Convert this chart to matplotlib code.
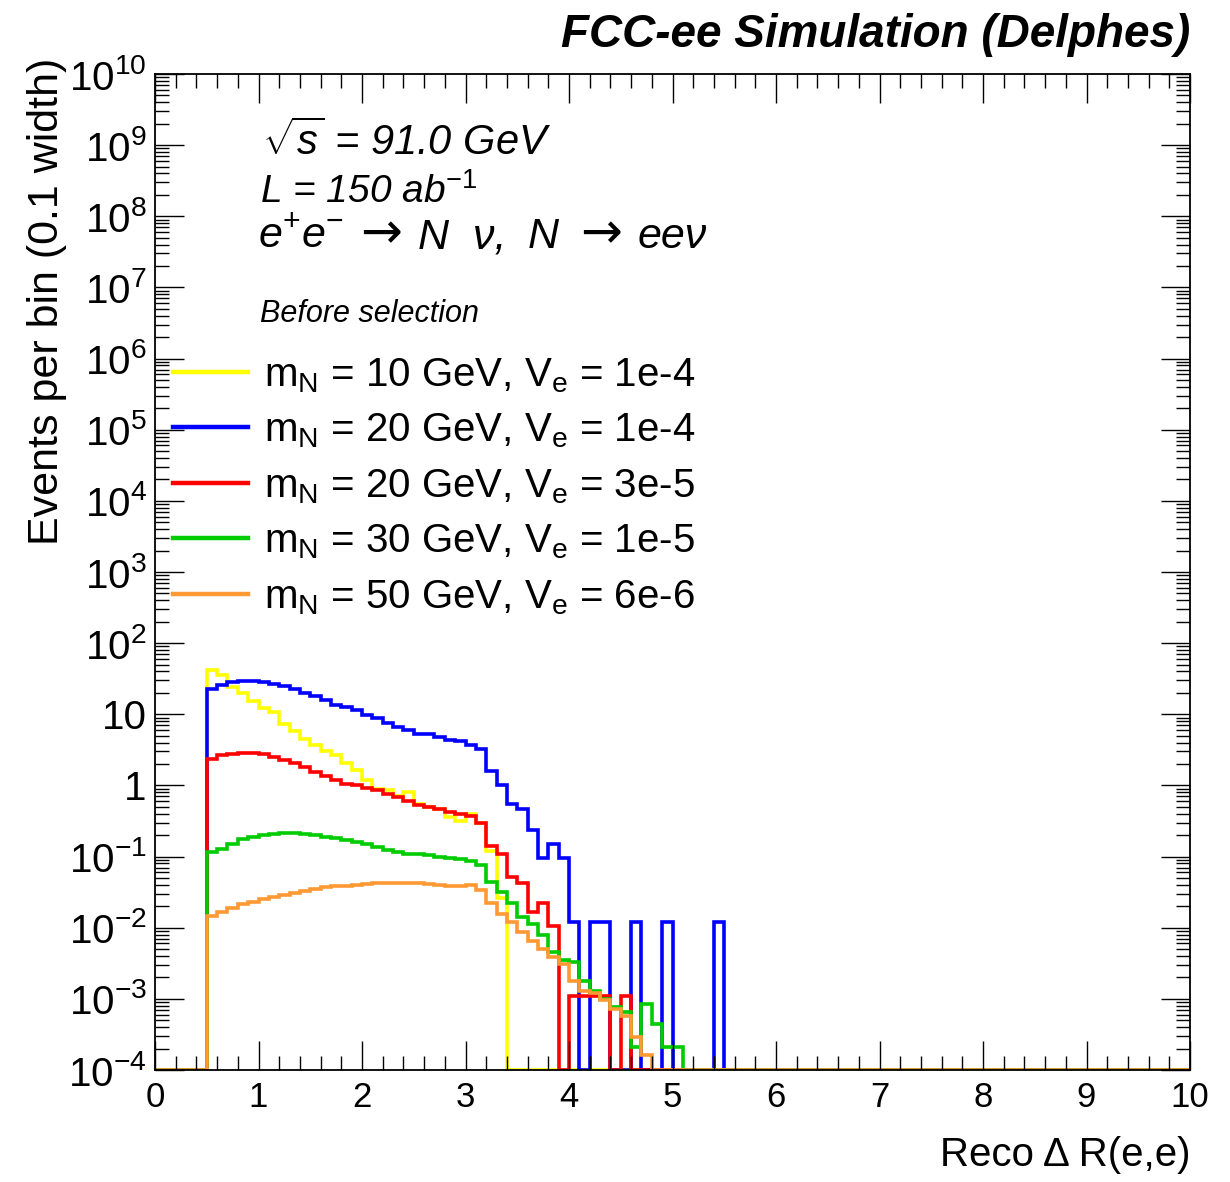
import numpy as np
import matplotlib
matplotlib.use("Agg")
import matplotlib.pyplot as plt
from matplotlib.lines import Line2D
from matplotlib.ticker import FixedLocator, LogLocator, FuncFormatter, NullFormatter

plt.rcParams['font.family'] = ['Liberation Sans', 'DejaVu Sans']
plt.rcParams['mathtext.fontset'] = 'custom'
plt.rcParams['mathtext.rm'] = 'Liberation Sans'
plt.rcParams['mathtext.it'] = 'Liberation Sans:italic'
plt.rcParams['mathtext.bf'] = 'Liberation Sans:bold'

# 100 bins of 0.1 in Delta R, the samples start at 0.5
bin_edges = np.linspace(0, 10, 101)
first_bin = 5

m10_ve1e4 = [42, 36, 24, 20, 15.5, 12.3, 10.7, 7.4, 5.8, 4.5,
             3.7, 3.0, 2.7, 2.1, 1.65, 1.2, 0.88, 0.85, 0.72, 0.80,
             0.55, 0.50, 0.47, 0.36, 0.32, 0.40, 0.30, 0.12, 0.026]
m20_ve1e4 = [23, 26, 28.5, 29.8, 29.8, 28.5, 27, 24.8, 23, 20,
             18, 15.7, 13.4, 12.6, 11.4, 9.7, 9.0, 7.6, 6.6, 6.0,
             5.3, 5.3, 4.8, 4.4, 4.2, 3.7, 3.3, 1.6, 1.0, 0.55,
             0.47, 0.24, 0.095, 0.15, 0.095, 0.012, 0, 0.012, 0.012, 0,
             0, 0.012, 0, 0, 0.012, 0, 0, 0, 0, 0.012]
m20_ve3e5 = [2.37, 2.64, 2.79, 2.85, 2.85, 2.73, 2.5, 2.25, 2.08, 1.81,
             1.54, 1.35, 1.18, 1.05, 1.0, 0.93, 0.86, 0.77, 0.69, 0.60,
             0.53, 0.50, 0.46, 0.43, 0.40, 0.37, 0.30, 0.14, 0.11, 0.051,
             0.042, 0.0166, 0.022, 0.0107, 0, 0.0011, 0.0011, 0.0011, 0.0011, 0,
             0.0011]
m30_ve1e5 = [0.115, 0.129, 0.151, 0.175, 0.187, 0.198, 0.208, 0.213, 0.213, 0.205,
             0.198, 0.19, 0.18, 0.17, 0.16, 0.15, 0.137, 0.125, 0.116, 0.11,
             0.107, 0.104, 0.10, 0.095, 0.092, 0.088, 0.077, 0.044, 0.032, 0.022,
             0.014, 0.0113, 0.0078, 0.0045, 0.0035, 0.0033, 0.0018, 0.0013, 0.001, 0.00076,
             0.00065, 0.00021, 0.00085, 0.00045, 0.00021, 0.00021]
m50_ve6e6 = [0.0148, 0.0165, 0.019, 0.0215, 0.023, 0.025, 0.027, 0.029, 0.031, 0.033,
             0.035, 0.037, 0.038, 0.039, 0.040, 0.041, 0.042, 0.043, 0.043, 0.042,
             0.042, 0.041, 0.040, 0.039, 0.038, 0.040, 0.034, 0.022, 0.0155, 0.012,
             0.0087, 0.0066, 0.005, 0.0039, 0.0031, 0.0018, 0.0013, 0.0012, 0.00095, 0.00072,
             0.00058, 0.00029, 0.00016]

series = [m10_ve1e4, m20_ve1e4, m20_ve3e5, m30_ve1e5, m50_ve6e6]
labels = [r"m$_{\mathregular{N}}$ = 10 GeV, V$_{\mathregular{e}}$ = 1e-4",
          r"m$_{\mathregular{N}}$ = 20 GeV, V$_{\mathregular{e}}$ = 1e-4",
          r"m$_{\mathregular{N}}$ = 20 GeV, V$_{\mathregular{e}}$ = 3e-5",
          r"m$_{\mathregular{N}}$ = 30 GeV, V$_{\mathregular{e}}$ = 1e-5",
          r"m$_{\mathregular{N}}$ = 50 GeV, V$_{\mathregular{e}}$ = 6e-6"]
colors = ['#ffff00', '#0000ff', '#ff0000', '#00cc00', '#ff9933']

ymin, ymax = 1e-4, 1e10
W, H = 1230, 1182

fig = plt.figure(figsize=(W / 100, H / 100), dpi=100)
ax = fig.add_axes([155 / W, 1 - 1070 / H, (1190 - 155) / W, (1070 - 74) / H])

for vals, col in zip(series, colors):
    counts = np.zeros(len(bin_edges) - 1)
    counts[first_bin:first_bin + len(vals)] = vals
    # empty bins sit on the lower edge like in ROOT
    counts = np.where(counts > 0, counts, ymin)
    ax.stairs(counts, bin_edges, baseline=None, color=col, lw=2.6)

ax.set_yscale('log')
ax.set_xlim(0, 10)
ax.set_ylim(ymin, ymax)

ax.xaxis.set_major_locator(FixedLocator(np.arange(0, 11, 1)))
ax.xaxis.set_minor_locator(FixedLocator(np.arange(0, 10.01, 0.2)))
ax.yaxis.set_major_locator(LogLocator(base=10, numticks=30))
ax.yaxis.set_minor_locator(LogLocator(base=10, subs=np.arange(2, 10), numticks=30))
ax.yaxis.set_minor_formatter(NullFormatter())


def ylab(v, pos):
    e = int(round(np.log10(v)))
    if e == 0:
        return "1"
    if e == 1:
        return "10"
    return r"$\mathregular{10^{%d}}$" % e


ax.yaxis.set_major_formatter(FuncFormatter(ylab))
ax.tick_params(which='both', direction='in', top=True, right=True, width=1.0)
ax.tick_params(which='major', length=21)
ax.tick_params(which='minor', length=10)
ax.tick_params(axis='x', which='major', labelsize=25, pad=8)
ax.tick_params(axis='y', which='major', labelsize=29, pad=6)
for s in ax.spines.values():
    s.set_linewidth(1.3)

fig.text(47 / W, 1 - 58 / H, "Events per bin (0.1 width)", rotation=90,
         ha='center', va='top', fontsize=31)
fig.text(1190 / W, 1 - 1155 / H, "Reco Δ R(e,e)", ha='right', va='center', fontsize=29)
fig.text(1190 / W, 1 - 35 / H, "FCC-ee Simulation (Delphes)", ha='right', va='center',
         fontsize=33, weight='bold', style='italic')

fig.text(262 / W, 1 - 155 / H, r"$\sqrt{s}$ = 91.0 GeV", fontsize=30, style='italic',
         va='baseline')
fig.text(260 / W, 1 - 203 / H, r"L = 150 ab$^{\mathit{-1}}$", fontsize=28, style='italic',
         va='baseline')
# process line in pieces so the arrows can come from DejaVu Sans
proc_y = 1 - 248 / H
fig.text(258 / W, proc_y, r"e$^{+}$e$^{-}$", fontsize=31, style='italic', va='baseline')
fig.text(360 / W, proc_y, "→", fontsize=36, family='DejaVu Sans', va='baseline')
fig.text(418 / W, proc_y, "N  ν,", fontsize=31, style='italic', va='baseline')
fig.text(528 / W, proc_y, "N", fontsize=31, style='italic', va='baseline')
fig.text(580 / W, proc_y, "→", fontsize=36, family='DejaVu Sans', va='baseline')
fig.text(638 / W, proc_y, "eeν", fontsize=31, style='italic', va='baseline')
fig.text(260 / W, 1 - 322 / H, "Before selection", fontsize=22, style='italic',
         va='baseline')

handles = [Line2D([], [], color=c, lw=3.2) for c in colors]
ax.legend(handles, labels, loc='upper left', bbox_to_anchor=(173 / W, 1 - 356 / H),
          bbox_transform=fig.transFigure, frameon=False, fontsize=29,
          borderpad=0, borderaxespad=0, handlelength=1.85, handletextpad=0.42,
          labelspacing=0.42)

fig.savefig("out.png", dpi=100)
